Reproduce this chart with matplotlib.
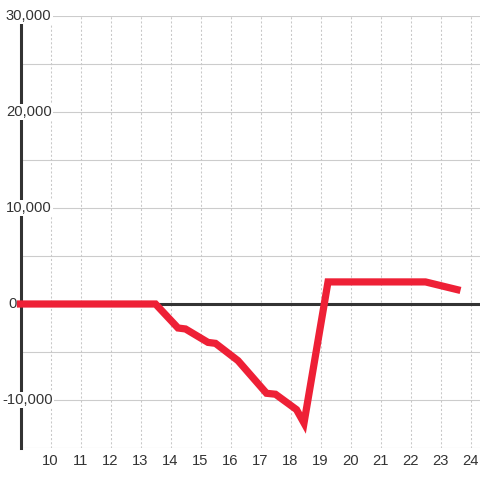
import matplotlib
matplotlib.use("Agg")
import matplotlib.pyplot as plt

# values
hours = [9, 13.5, 14.25, 14.5, 15.25, 15.5, 16.25, 17.2, 17.5, 18.2, 18.45, 19.25, 22.5, 23.55]
balance = [0, 0, -2500, -2600, -4000, -4100, -5900, -9300, -9400, -11000, -12400, 2300, 2300, 1500]

x_ticks = list(range(10, 25))
y_ticks = [30000, 20000, 10000, 0, -10000]
y_labels = ["30,000", "20,000", "10,000", "0", "-10,000"]
y_label_px = [6, 6, 6, 8, 2.5]  # left edge of each label in pixels

plt.rcParams["font.family"] = ["Liberation Sans", "DejaVu Sans"]

W = H = 480
fig = plt.figure(figsize=(4.8, 4.8), dpi=100)
ax = fig.add_axes([20.5 / W, (H - 448) / H, (W - 20.5) / W, (448 - 16) / H])

x0, x1 = 9, 9 + (W - 20.5) / 30
ax.set_xlim(x0, x1)
ax.set_ylim(-15000, 30000)

for s in ["top", "right", "bottom"]:
    ax.spines[s].set_visible(False)
ax.spines["left"].set_color("#333333")
ax.spines["left"].set_linewidth(2.2)

# grid
for y in range(-15000, 30001, 5000):
    ax.axhline(y, color="#cccccc", lw=0.8, zorder=0.5)
for x in x_ticks:
    ax.axvline(x, color="#c8c8c8", lw=0.75, ls=(0, (2, 2)), zorder=0.5)

ax.axhline(0, color="#333333", lw=2.2, zorder=1)
ax.plot(hours, balance, color="#ee2036", lw=5.2, solid_joinstyle="miter", zorder=4, clip_on=False)

ax.set_xticks([])
ax.set_yticks([])

# x labels, 13 px below the bottom edge
for x in x_ticks:
    ax.annotate(str(x), (x, 0), xycoords=ax.get_xaxis_transform(),
                xytext=(0, -9.4), textcoords="offset points",
                ha="center", va="center", fontsize=10.6, color="#333333")

# y labels with white background over the axis line
for y, lab, px in zip(y_ticks, y_labels, y_label_px):
    xd = x0 + (px - 20.5) / 30
    ax.text(xd, y, lab, ha="left", va="center", fontsize=10.6, color="#333333", zorder=3,
            bbox=dict(facecolor="white", edgecolor="none", pad=1), clip_on=False)

fig.savefig("out.png", dpi=100, facecolor="white")
